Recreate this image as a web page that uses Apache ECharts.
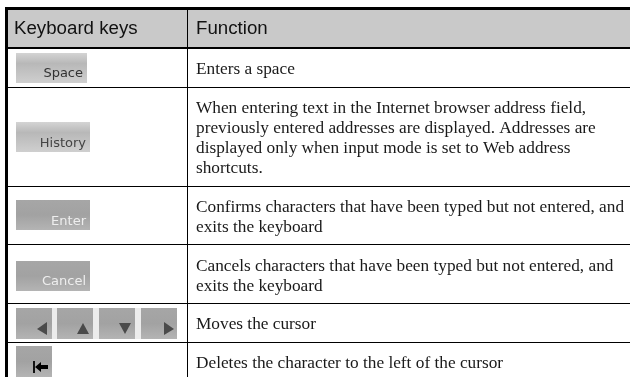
<!DOCTYPE html>
<html>
<head>
<meta charset="utf-8">
<style>
  html, body { margin: 0; padding: 0; background: #fff; }
  #chart { width: 630px; height: 377px; }
</style>
<script src="https://cdn.jsdelivr.net/npm/echarts@6/dist/echarts.min.js"></script>
</head>
<body>
<div id="chart"></div>
<script>
const headers = ['Keyboard keys', 'Function']
const keyLabels = ['Space', 'History', 'Enter', 'Cancel']
const functionLines = [
  ['Enters a space'],
  ['When entering text in the Internet browser address field,',
    'previously entered addresses are displayed. Addresses are',
    'displayed only when input mode is set to Web address',
    'shortcuts.'],
  ['Confirms characters that have been typed but not entered, and', 'exits the keyboard'],
  ['Cancels characters that have been typed but not entered, and', 'exits the keyboard'],
  ['Moves the cursor'],
  ['Deletes the character to the left of the cursor'],
]

const SANS = '"Liberation Sans", Arial, sans-serif'
const SERIF = '"Liberation Serif", "Times New Roman", serif'
const KEY_FONT = '"DejaVu Sans", sans-serif'
const LINE_H = 20

// table layout, px
const rowLines = [87, 186, 244, 303, 342]
const textTops = [69, 108, 207, 266, 324, 363]
const wideKeys = [
  { x: 16, y: 53, w: 71, h: 30, light: true, color: '#333', labelY: 74 },
  { x: 16, y: 122, w: 74, h: 30, light: true, color: '#444', labelY: 144 },
  { x: 16, y: 200, w: 74, h: 30, light: false, color: '#eee', labelY: 222 },
  { x: 16, y: 261, w: 74, h: 30, light: false, color: '#eee', labelY: 282 },
]
const arrowX = [16, 57, 99, 141]
// triangle outlines relative to each arrow key
const arrowGlyphs = [
  [[21, 21], [31, 14], [31, 27]],
  [[20, 26], [32, 26], [26, 15]],
  [[20, 15], [32, 15], [26, 26]],
  [[23, 14], [33, 21], [23, 27]],
]

const keyFill = (light) => new echarts.graphic.LinearGradient(0, 0, 0, 1, light
  ? [{ offset: 0, color: '#d4d4d4' }, { offset: 0.35, color: '#b8b8b8' }, { offset: 1, color: '#cfcfcf' }]
  : [{ offset: 0, color: '#a6a6a6' }, { offset: 0.5, color: '#a2a2a2' }, { offset: 1, color: '#b4b4b4' }])

const rect = (x, y, w, h, fill) => ({ type: 'rect', shape: { x, y, width: w, height: h }, style: { fill } })
const poly = (x, y, points, fill) => ({ type: 'polygon', x, y, shape: { points }, style: { fill } })
const label = (x, y, text, font, size, fill, align = 'left') => ({
  type: 'text', x, y,
  style: { text, fontFamily: font, fontSize: size, fill, align, verticalAlign: 'middle' },
})

const elements = [
  rect(8, 10, 622, 37, '#c9c9c9'),
  rect(5, 7, 625, 3, '#000'),
  rect(5, 7, 3, 370, '#000'),
  rect(8, 47, 622, 2, '#000'),
  rect(187, 10, 1, 367, '#000'),
  label(14, 29, headers[0], SANS, 18.7, '#111'),
  label(196, 29, headers[1], SANS, 18.7, '#111'),
]

rowLines.forEach((y) => elements.push(rect(8, y, 622, 1, '#000')))

wideKeys.forEach((k, i) => {
  elements.push(rect(k.x, k.y, k.w, k.h, keyFill(k.light)))
  elements.push(label(k.x + k.w - 4, k.labelY, keyLabels[i], KEY_FONT, 13, k.color, 'right'))
})

// grey strip between the arrow keys
elements.push(rect(52, 308, 89, 31, '#ececec'))
arrowX.forEach((x, i) => {
  elements.push(rect(x, 308, 36, 31, keyFill(false)))
  elements.push(poly(x, 308, arrowGlyphs[i], '#4a4a4a'))
})

// backspace key, bar plus arrow
elements.push(rect(16, 346, 36, 31, keyFill(false)))
elements.push(rect(33, 361, 2, 12, '#111'))
elements.push(poly(35, 367, [[0, 0], [6, -5], [6, -2], [13, -2], [13, 2], [6, 2], [6, 5]], '#000'))

functionLines.forEach((lines, r) => {
  lines.forEach((line, i) => {
    elements.push(label(196, textTops[r] + i * LINE_H, line, SERIF, 17.3, '#1a1a1a'))
  })
})

const chart = echarts.init(document.getElementById('chart'))
chart.setOption({ animation: false, backgroundColor: '#fff', graphic: { elements } })
</script>
</body>
</html>
